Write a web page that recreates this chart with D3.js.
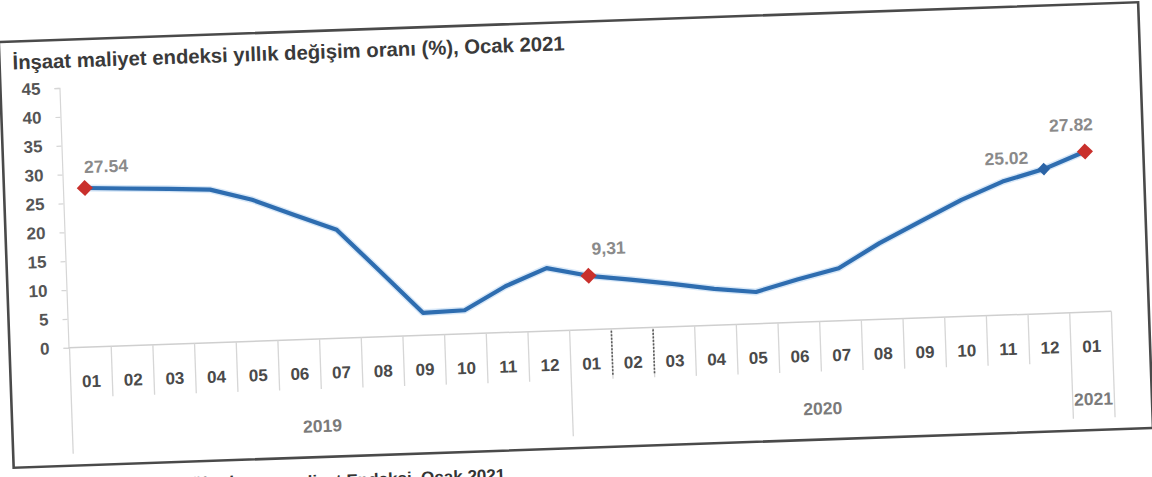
<!DOCTYPE html>
<html>
<head>
<meta charset="utf-8">
<script src="https://cdn.jsdelivr.net/npm/d3@7"></script>
<style>
  html, body { margin: 0; padding: 0; background: #ffffff; }
  svg { display: block; }
  text { font-family: "Liberation Sans", Arial, sans-serif; font-weight: bold; }
</style>
</head>
<body>
<svg id="chart" width="1152" height="477"></svg>
<script>
// Construction cost index, annual change (%), monthly
const monthLabels = ["01","02","03","04","05","06","07","08","09","10","11","12",
                     "01","02","03","04","05","06","07","08","09","10","11","12",
                     "01"];
const years = ["2019", "2020", "2021"];
const monthsPerYear = [12, 12, 1];
const values2019 = [27.54, 27.2, 26.9, 26.5, 24.5, 21.6, 18.8, 11.4, 3.9, 4.1, 8.0, 10.9];
const values2020 = [9.31, 8.4, 7.4, 6.3, 5.5, 7.4, 9.1, 13.2, 16.7, 20.2, 23.1, 25.02];
const values2021 = [27.82];
const yTicks = [0, 5, 10, 15, 20, 25, 30, 35, 40, 45];

// Points carrying a value label: index in the series, decimal separator, marker colour
const labelledPoints = [
  { index: 0,  sep: ".", marker: "red"  },
  { index: 12, sep: ",", marker: "red"  },
  { index: 23, sep: ".", marker: "blue" },
  { index: 24, sep: ".", marker: "red"  }
];

const values = [...values2019, ...values2020, ...values2021];

const svg = d3.select("#chart");

// whole sheet sits slightly tilted on the page
const page = svg.append("g").attr("transform", "rotate(-2, 576, 238)");

// frame
page.append("rect")
  .attr("x", 6).attr("y", 22).attr("width", 1140).attr("height", 426)
  .attr("fill", "none").attr("stroke", "#4a4a4a").attr("stroke-width", 2.6);

// title
page.append("text")
  .attr("x", 19).attr("y", 50)
  .attr("font-size", 20.3).attr("fill", "#3a3a3a")
  .text("İnşaat maliyet endeksi yıllık değişim oranı (%), Ocak 2021");

// caption under the frame (only its top shows at the page edge)
page.append("text")
  .attr("x", 497).attr("y", 478).attr("text-anchor", "end")
  .attr("font-size", 17).attr("fill", "#333")
  .text("Kaynak: TÜİK, İnşaat maliyet Endeksi, Ocak 2021");

// scales
const idx = d3.range(values.length);
const x = d3.scaleBand().domain(idx).range([66, 66 + 41.7 * values.length]).padding(0);
const y = d3.scaleLinear().domain([0, 45]).range([330, 70]);
const cx = i => x(i) + x.bandwidth() / 2;

const grid = "#d6d6d6";

// y axis
const yAxis = d3.axisLeft(y).tickValues(yTicks).tickSize(5).tickPadding(14);
const gy = page.append("g").attr("transform", "translate(65,0)").call(yAxis);
gy.select(".domain").attr("stroke", grid).attr("stroke-width", 1.2);
gy.selectAll(".tick line").attr("stroke", grid).attr("stroke-width", 1.2);
gy.selectAll(".tick text")
  .attr("font-size", 17).attr("fill", "#555")
  .attr("font-family", "'Liberation Sans', Arial, sans-serif").attr("font-weight", "bold");

// x baseline
page.append("line")
  .attr("x1", 65).attr("x2", x.range()[1]).attr("y1", y(0)).attr("y2", y(0))
  .attr("stroke", "#cfcfcf").attr("stroke-width", 1.5);

// category separators; longer ones at year boundaries
const yearStarts = [0];
monthsPerYear.forEach((n, k) => yearStarts.push(yearStarts[k] + n));
d3.range(values.length + 1).forEach(k => {
  const xb = x.range()[0] + k * x.step();
  const isYear = yearStarts.includes(k);
  page.append("line")
    .attr("x1", xb).attr("x2", xb)
    .attr("y1", y(0)).attr("y2", isYear ? 436 : 380)
    .attr("stroke", grid).attr("stroke-width", 1.3);
});
// two darker dotted separators in early 2020
[13, 14].forEach(k => {
  const xb = x.range()[0] + k * x.step();
  page.append("line")
    .attr("x1", xb).attr("x2", xb).attr("y1", y(0) + 2).attr("y2", 376)
    .attr("stroke", "#5a5a5a").attr("stroke-width", 1.6)
    .attr("stroke-dasharray", "2,1.5");
});

// month labels
page.selectAll("text.month").data(monthLabels).join("text")
  .attr("class", "month")
  .attr("x", (d, i) => cx(i)).attr("y", 370)
  .attr("text-anchor", "middle").attr("font-size", 17).attr("fill", "#4a4a4a")
  .text(d => d);

// year labels centred under their months
years.forEach((yr, k) => {
  const first = yearStarts[k], last = yearStarts[k + 1] - 1;
  page.append("text")
    .attr("x", (cx(first) + cx(last)) / 2).attr("y", 423)
    .attr("text-anchor", "middle").attr("font-size", 17.5).attr("fill", "#7a7a7a")
    .text(yr);
});

// line
const line = d3.line().x((d, i) => cx(i)).y(d => y(d));
page.append("path").datum(values)
  .attr("d", line).attr("fill", "none")
  .attr("stroke", "#a9cdef").attr("stroke-width", 7).attr("stroke-opacity", 0.45)
  .attr("stroke-linejoin", "round");
page.append("path").datum(values)
  .attr("d", line).attr("fill", "none")
  .attr("stroke", "#2e6db0").attr("stroke-width", 4.2)
  .attr("stroke-linejoin", "round").attr("stroke-linecap", "round");

// markers
const markerColor = { red: "#c9302c", blue: "#2b64a6" };
const markerSize = { red: 130, blue: 80 };
page.selectAll("path.marker").data(labelledPoints).join("path")
  .attr("class", "marker")
  .attr("d", d => d3.symbol(d3.symbolSquare, markerSize[d.marker])())
  .attr("transform", d => `translate(${cx(d.index)},${y(values[d.index])}) rotate(45)`)
  .attr("fill", d => markerColor[d.marker]);

// value labels
const labelOffset = { 0: [22, -15], 12: [21, -21], 23: [-37, -6], 24: [-13, -21] };
const fmt = d3.format(".2f");
page.selectAll("text.vlabel").data(labelledPoints).join("text")
  .attr("class", "vlabel")
  .attr("x", d => cx(d.index) + labelOffset[d.index][0])
  .attr("y", d => y(values[d.index]) + labelOffset[d.index][1])
  .attr("text-anchor", "middle").attr("font-size", 17.5).attr("fill", "#8a8a8a")
  .text(d => fmt(values[d.index]).replace(".", d.sep));
</script>
</body>
</html>
